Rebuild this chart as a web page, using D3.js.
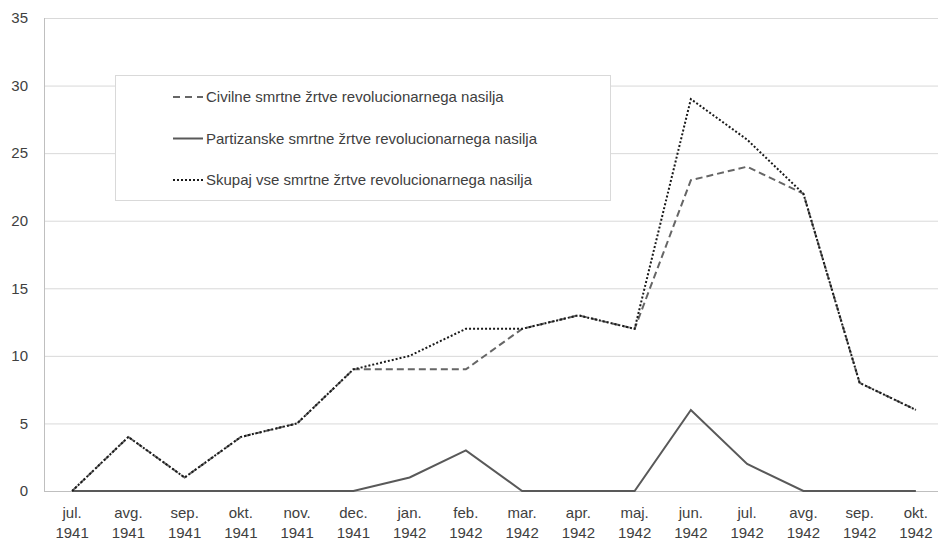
<!DOCTYPE html>
<html>
<head>
<meta charset="utf-8">
<script src="https://cdn.jsdelivr.net/npm/d3@7"></script>
<style>
  body { margin: 0; background: #fff; }
  text { font-family: "Liberation Sans", Arial, sans-serif; fill: #404040; }
</style>
</head>
<body>
<div id="chart"></div>
<script>
var months = ["jul.", "avg.", "sep.", "okt.", "nov.", "dec.", "jan.", "feb.", "mar.", "apr.", "maj.", "jun.", "jul.", "avg.", "sep.", "okt."];
var years = ["1941", "1941", "1941", "1941", "1941", "1941", "1942", "1942", "1942", "1942", "1942", "1942", "1942", "1942", "1942", "1942"];
var civilne = [0, 4, 1, 4, 5, 9, 9, 9, 12, 13, 12, 23, 24, 22, 8, 6];
var partizanske = [0, 0, 0, 0, 0, 0, 1, 3, 0, 0, 0, 6, 2, 0, 0, 0];
var skupaj = [0, 4, 1, 4, 5, 9, 10, 12, 12, 13, 12, 29, 26, 22, 8, 6];
var yTicks = [0, 5, 10, 15, 20, 25, 30, 35];

var width = 938, height = 543;
var margin = {top: 18, right: -6, bottom: 52, left: 44};

var svg = d3.select("#chart").append("svg")
    .attr("width", width)
    .attr("height", height);

var x = d3.scaleBand()
    .domain(d3.range(months.length))
    .range([margin.left, width - margin.right]);

var y = d3.scaleLinear()
    .domain([0, 35])
    .range([height - margin.bottom, margin.top]);

// gridlines
svg.append("g")
  .selectAll("line")
  .data(yTicks)
  .enter().append("line")
    .attr("x1", margin.left)
    .attr("x2", width)
    .attr("y1", function(d) { return y(d) + 0.5; })
    .attr("y2", function(d) { return y(d) + 0.5; })
    .style("stroke", "#d9d9d9")
    .style("stroke-width", 1);

// y axis line
svg.append("line")
    .attr("x1", margin.left + 0.5).attr("x2", margin.left + 0.5)
    .attr("y1", y(35)).attr("y2", y(0))
    .style("stroke", "#bfbfbf");

// x axis line
svg.append("line")
    .attr("x1", margin.left).attr("x2", width)
    .attr("y1", y(0) + 0.5).attr("y2", y(0) + 0.5)
    .style("stroke", "#bfbfbf");

// y labels
svg.append("g")
  .selectAll("text")
  .data(yTicks)
  .enter().append("text")
    .attr("x", 28)
    .attr("y", function(d) { return y(d); })
    .attr("dy", "0.35em")
    .attr("text-anchor", "end")
    .style("font-size", "15px")
    .text(function(d) { return d; });

// x labels
var xl = svg.append("g")
  .selectAll("text")
  .data(months)
  .enter().append("text")
    .attr("text-anchor", "middle")
    .style("font-size", "15px")
    .attr("transform", function(d, i) { return "translate(" + (x(i) + x.bandwidth() / 2) + ",0)"; });
xl.append("tspan").attr("x", 0).attr("y", 518).text(function(d) { return d; });
xl.append("tspan").attr("x", 0).attr("y", 538).text(function(d, i) { return years[i]; });

var line = d3.line()
    .x(function(d, i) { return x(i) + x.bandwidth() / 2; })
    .y(function(d) { return y(d); });

var series = [
  {name: "Civilne smrtne žrtve revolucionarnega nasilja", values: civilne, color: "#666666", dash: "7,4", legendDash: "7,5"},
  {name: "Partizanske smrtne žrtve revolucionarnega nasilja", values: partizanske, color: "#595959", dash: null, legendDash: null},
  {name: "Skupaj vse smrtne žrtve revolucionarnega nasilja", values: skupaj, color: "#1a1a1a", dash: "2,2", legendDash: "2,2"}
];

svg.append("g")
  .selectAll("path")
  .data(series)
  .enter().append("path")
    .attr("d", function(d) { return line(d.values); })
    .style("fill", "none")
    .style("stroke", function(d) { return d.color; })
    .style("stroke-width", 2)
    .style("stroke-dasharray", function(d) { return d.dash; });

// legend
var legend = svg.append("g");
legend.append("rect")
    .attr("x", 115.5).attr("y", 75.5)
    .attr("width", 495).attr("height", 125)
    .style("fill", "#fff")
    .style("stroke", "#d9d9d9");

var items = legend.selectAll("g.item")
  .data(series)
  .enter().append("g")
    .attr("class", "item")
    .attr("transform", function(d, i) { return "translate(0," + (97 + i * 41.5) + ")"; });
items.append("line")
    .attr("x1", 173).attr("x2", 203)
    .style("stroke", function(d) { return d.color; })
    .style("stroke-width", 2)
    .style("stroke-dasharray", function(d) { return d.legendDash; });
items.append("text")
    .attr("x", 206)
    .attr("dy", "0.35em")
    .style("font-size", "15px")
    .text(function(d) { return d.name; });
</script>
</body>
</html>
